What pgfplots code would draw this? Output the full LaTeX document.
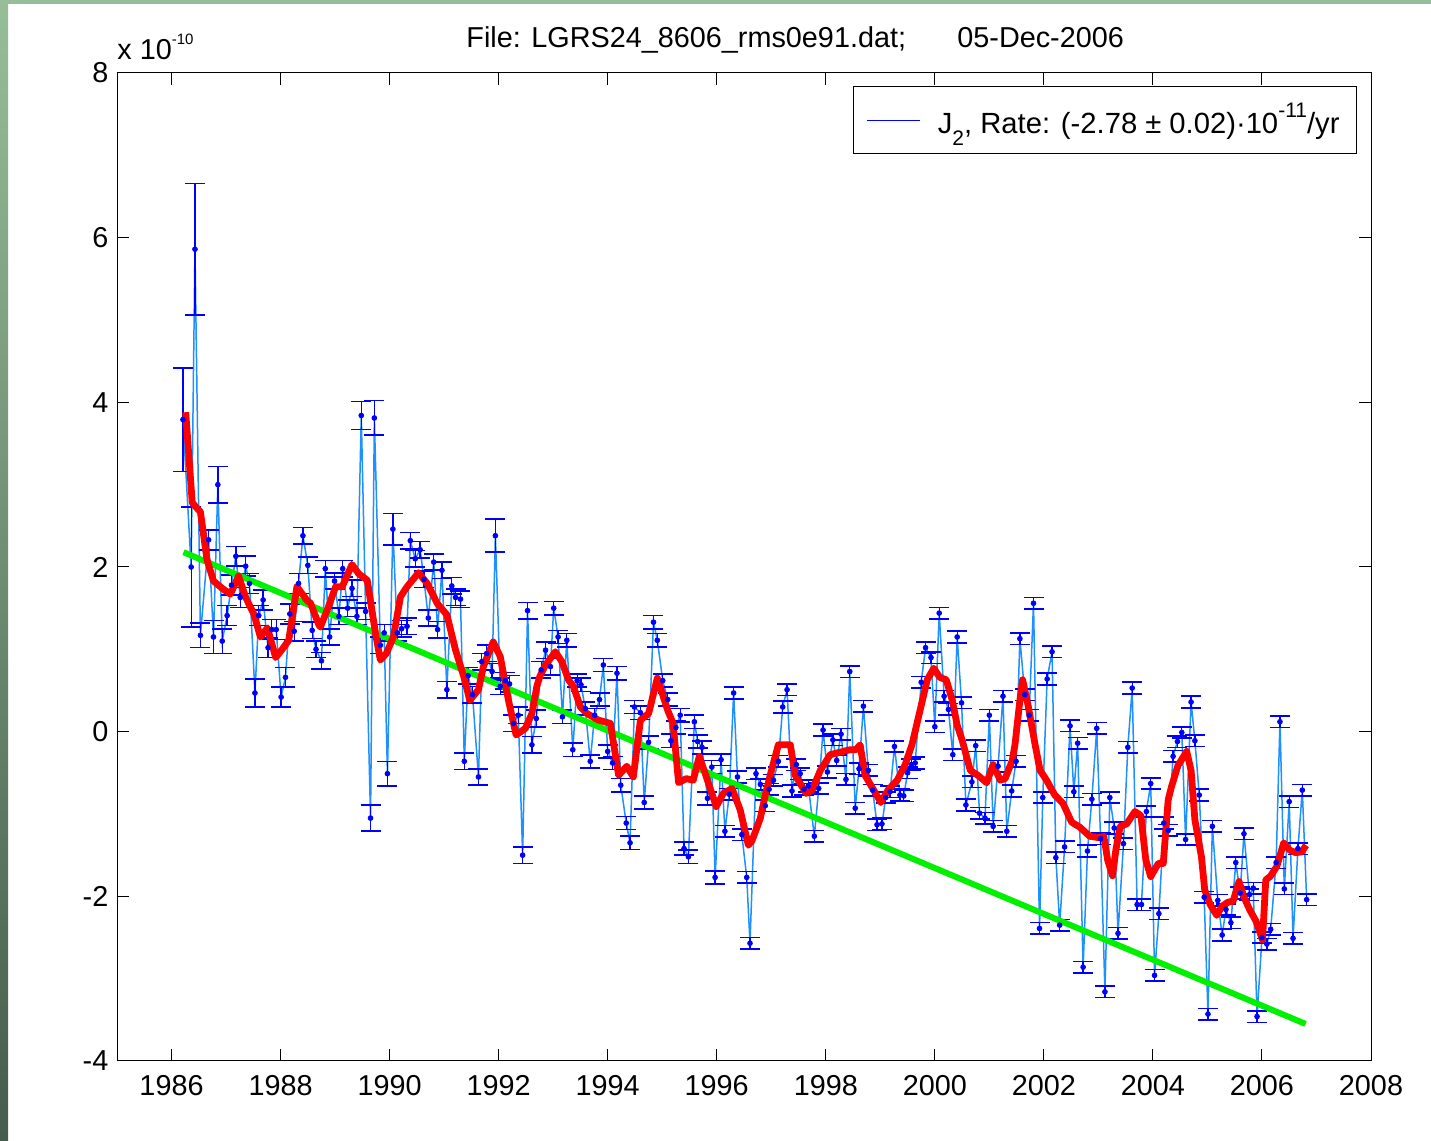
\documentclass[border=0pt]{standalone}
\usepackage{fontspec}
\setmainfont{Liberation Sans}
\usepackage{pgfplots}
\usepackage{pgfplotstable}
\pgfplotsset{compat=1.18}
\definecolor{lblue}{RGB}{30,144,255}
\definecolor{dblue}{RGB}{0,0,255}
\definecolor{mgreen}{RGB}{0,240,0}
\definecolor{slidetop}{RGB}{150,190,152}
\definecolor{slidebot}{RGB}{70,92,76}

\pgfplotstableread{
x y e
1986.21 3.79 0.63
1986.36 2.00 0.73
1986.43 5.86 0.80
1986.53 1.17 0.15
1986.68 2.33 0.12
1986.77 1.15 0.20
1986.85 3.00 0.22
1986.93 1.10 0.15
1987.02 1.41 0.12
1987.10 1.78 0.12
1987.18 2.13 0.12
1987.26 1.63 0.12
1987.36 2.01 0.12
1987.43 1.80 0.12
1987.53 0.47 0.17
1987.60 1.41 0.12
1987.68 1.60 0.12
1987.77 1.02 0.12
1987.84 1.24 0.12
1987.92 1.24 0.12
1988.01 0.42 0.12
1988.09 0.66 0.12
1988.17 1.43 0.12
1988.25 1.22 0.12
1988.33 1.80 0.12
1988.41 2.38 0.10
1988.50 2.02 0.10
1988.58 1.23 0.10
1988.65 1.00 0.10
1988.75 0.86 0.10
1988.82 1.98 0.10
1988.90 1.15 0.10
1988.99 1.83 0.10
1989.07 1.40 0.10
1989.14 1.98 0.10
1989.23 1.50 0.10
1989.31 1.74 0.10
1989.40 1.40 0.10
1989.48 3.84 0.17
1989.56 1.46 0.10
1989.65 -1.05 0.16
1989.72 3.81 0.21
1989.83 1.05 0.10
1989.90 1.20 0.10
1989.96 -0.51 0.15
1990.06 2.46 0.19
1990.14 1.20 0.10
1990.22 1.25 0.10
1990.32 1.28 0.10
1990.38 2.32 0.10
1990.47 2.10 0.10
1990.56 2.21 0.10
1990.63 1.85 0.10
1990.71 1.38 0.10
1990.81 2.06 0.10
1990.88 1.24 0.10
1990.96 1.96 0.10
1991.05 0.51 0.10
1991.14 1.77 0.10
1991.21 1.63 0.10
1991.30 1.61 0.10
1991.37 -0.36 0.10
1991.44 0.68 0.10
1991.52 0.45 0.10
1991.63 -0.55 0.10
1991.69 0.85 0.10
1991.78 0.95 0.10
1991.88 0.73 0.10
1991.94 2.38 0.20
1992.03 0.55 0.10
1992.12 0.62 0.10
1992.20 0.58 0.10
1992.27 0.10 0.10
1992.36 0.20 0.10
1992.44 -1.50 0.10
1992.53 1.47 0.10
1992.61 -0.16 0.10
1992.69 0.16 0.10
1992.78 0.75 0.10
1992.86 0.99 0.10
1992.95 0.79 0.10
1993.01 1.50 0.08
1993.09 1.15 0.08
1993.17 0.18 0.08
1993.25 1.11 0.08
1993.36 -0.22 0.08
1993.44 0.62 0.08
1993.51 0.57 0.08
1993.59 0.28 0.08
1993.68 -0.36 0.08
1993.76 0.20 0.08
1993.85 0.39 0.08
1993.92 0.81 0.08
1994.00 -0.24 0.08
1994.09 -0.38 0.08
1994.17 0.71 0.08
1994.24 -0.65 0.08
1994.34 -1.11 0.08
1994.41 -1.35 0.08
1994.49 0.30 0.08
1994.60 0.23 0.08
1994.67 -0.86 0.08
1994.75 -0.13 0.08
1994.84 1.33 0.08
1994.91 1.11 0.08
1995.01 0.62 0.08
1995.10 0.39 0.08
1995.16 -0.11 0.08
1995.25 0.05 0.08
1995.33 0.20 0.08
1995.40 -1.42 0.08
1995.48 -1.52 0.08
1995.59 0.12 0.08
1995.65 -0.12 0.08
1995.73 -0.19 0.08
1995.83 -0.81 0.08
1995.91 -0.43 0.08
1995.97 -1.77 0.08
1996.08 -0.34 0.07
1996.15 -1.21 0.07
1996.23 -0.76 0.07
1996.31 0.47 0.07
1996.38 -0.55 0.07
1996.46 -1.25 0.07
1996.55 -1.77 0.07
1996.61 -2.57 0.07
1996.72 -0.51 0.07
1996.80 -0.64 0.07
1996.89 -0.90 0.07
1996.96 -0.70 0.07
1997.04 -0.59 0.07
1997.13 -0.36 0.07
1997.21 0.30 0.07
1997.29 0.51 0.07
1997.38 -0.72 0.07
1997.46 -0.40 0.07
1997.53 -0.51 0.07
1997.60 -0.70 0.07
1997.68 -0.66 0.07
1997.79 -1.27 0.07
1997.87 -0.69 0.07
1997.95 0.02 0.07
1998.03 -0.49 0.07
1998.13 -0.10 0.07
1998.20 -0.35 0.07
1998.28 -0.03 0.07
1998.37 -0.58 0.07
1998.44 0.73 0.07
1998.54 -0.93 0.07
1998.61 -0.45 0.07
1998.69 0.31 0.07
1998.78 -0.47 0.07
1998.86 -0.71 0.07
1998.94 -1.13 0.07
1999.03 -1.12 0.07
1999.10 -0.80 0.07
1999.18 -0.73 0.07
1999.26 -0.18 0.07
1999.36 -0.77 0.07
1999.43 -0.78 0.07
1999.50 -0.50 0.07
1999.57 -0.40 0.07
1999.64 -0.38 0.07
1999.75 0.60 0.07
1999.83 1.02 0.07
1999.93 0.90 0.07
2000.00 0.06 0.07
2000.08 1.44 0.07
2000.17 0.43 0.07
2000.25 0.27 0.07
2000.33 -0.28 0.07
2000.41 1.15 0.07
2000.49 0.35 0.07
2000.57 -0.89 0.07
2000.68 -0.61 0.07
2000.75 -0.17 0.07
2000.82 -0.99 0.07
2000.92 -1.05 0.07
2001.00 0.20 0.07
2001.07 -1.15 0.07
2001.16 -0.42 0.07
2001.25 0.43 0.07
2001.32 -1.21 0.07
2001.41 -0.72 0.07
2001.49 -0.36 0.07
2001.56 1.13 0.07
2001.65 0.45 0.07
2001.73 0.20 0.07
2001.81 1.56 0.07
2001.92 -2.39 0.07
2001.98 -0.80 0.07
2002.06 0.64 0.07
2002.15 0.97 0.07
2002.22 -1.53 0.07
2002.29 -2.35 0.07
2002.38 -1.40 0.07
2002.48 0.07 0.07
2002.55 -0.73 0.07
2002.62 -0.14 0.07
2002.72 -2.86 0.07
2002.80 -1.45 0.07
2002.88 -0.82 0.07
2002.97 0.04 0.07
2003.04 -1.30 0.07
2003.12 -3.16 0.07
2003.21 -0.80 0.07
2003.29 -1.17 0.07
2003.36 -2.45 0.07
2003.46 -1.36 0.07
2003.54 -0.19 0.07
2003.62 0.53 0.07
2003.71 -2.10 0.07
2003.79 -2.10 0.07
2003.88 -0.97 0.07
2003.96 -0.63 0.07
2004.03 -2.96 0.07
2004.11 -2.21 0.07
2004.20 -1.11 0.07
2004.28 -1.20 0.07
2004.37 -0.30 0.07
2004.45 -0.12 0.07
2004.53 -0.01 0.07
2004.60 -1.31 0.07
2004.70 0.36 0.07
2004.77 -0.11 0.07
2004.85 -0.77 0.07
2004.94 -2.01 0.07
2005.01 -3.43 0.07
2005.09 -1.15 0.07
2005.19 -2.05 0.07
2005.27 -2.47 0.07
2005.34 -2.16 0.07
2005.43 -2.32 0.07
2005.52 -1.59 0.07
2005.60 -1.96 0.07
2005.67 -1.24 0.07
2005.77 -1.98 0.07
2005.84 -1.90 0.07
2005.91 -3.46 0.07
2006.00 -2.50 0.07
2006.09 -2.58 0.07
2006.16 -2.40 0.07
2006.26 -1.59 0.07
2006.33 0.12 0.07
2006.41 -1.91 0.07
2006.50 -0.85 0.07
2006.57 -2.51 0.07
2006.66 -1.42 0.07
2006.74 -0.71 0.07
2006.82 -2.04 0.07
}\datatab

\pgfplotstableread{
x y
1986.26 3.88
1986.38 2.78
1986.46 2.72
1986.53 2.67
1986.65 2.09
1986.77 1.83
1986.93 1.74
1987.08 1.67
1987.23 1.89
1987.36 1.63
1987.51 1.43
1987.63 1.15
1987.76 1.26
1987.91 0.90
1988.03 1.00
1988.15 1.11
1988.30 1.76
1988.49 1.59
1988.55 1.56
1988.70 1.30
1988.73 1.27
1988.88 1.52
1989.01 1.76
1989.13 1.76
1989.31 2.03
1989.43 1.92
1989.59 1.84
1989.74 1.20
1989.83 0.87
1989.94 0.95
1990.07 1.15
1990.20 1.64
1990.32 1.76
1990.53 1.93
1990.69 1.80
1990.87 1.56
1991.05 1.42
1991.21 0.99
1991.36 0.67
1991.47 0.38
1991.63 0.51
1991.72 0.79
1991.90 1.09
1992.03 0.91
1992.18 0.38
1992.32 -0.04
1992.49 0.04
1992.61 0.22
1992.70 0.55
1992.76 0.68
1992.86 0.81
1993.04 0.97
1993.16 0.85
1993.28 0.63
1993.37 0.55
1993.50 0.30
1993.62 0.22
1993.83 0.14
1994.05 0.10
1994.20 -0.53
1994.35 -0.42
1994.47 -0.55
1994.60 0.14
1994.75 0.22
1994.91 0.65
1995.10 0.26
1995.20 0.10
1995.30 -0.62
1995.44 -0.57
1995.57 -0.59
1995.68 -0.30
1995.81 -0.55
1995.99 -0.91
1996.12 -0.75
1996.28 -0.69
1996.43 -0.95
1996.58 -1.38
1996.65 -1.32
1996.80 -1.05
1996.89 -0.77
1996.98 -0.53
1997.13 -0.16
1997.35 -0.16
1997.44 -0.53
1997.64 -0.75
1997.75 -0.71
1997.90 -0.47
1998.08 -0.28
1998.26 -0.25
1998.44 -0.22
1998.55 -0.22
1998.63 -0.16
1998.72 -0.53
1998.87 -0.70
1999.01 -0.86
1999.14 -0.71
1999.31 -0.59
1999.45 -0.41
1999.58 -0.16
1999.73 0.26
1999.86 0.63
1999.98 0.77
2000.09 0.66
2000.21 0.63
2000.32 0.38
2000.41 0.08
2000.50 -0.10
2000.65 -0.47
2000.79 -0.53
2000.95 -0.62
2001.07 -0.40
2001.20 -0.59
2001.29 -0.57
2001.42 -0.35
2001.47 -0.16
2001.56 0.38
2001.61 0.63
2001.71 0.32
2001.84 -0.16
2001.93 -0.47
2002.05 -0.59
2002.20 -0.77
2002.35 -0.87
2002.51 -1.10
2002.66 -1.16
2002.84 -1.27
2003.03 -1.29
2003.10 -1.27
2003.17 -1.56
2003.26 -1.75
2003.32 -1.44
2003.40 -1.15
2003.52 -1.12
2003.67 -0.97
2003.78 -1.02
2003.87 -1.56
2003.96 -1.76
2004.10 -1.60
2004.19 -1.60
2004.28 -0.83
2004.34 -0.67
2004.46 -0.41
2004.62 -0.24
2004.70 -0.47
2004.77 -1.07
2004.89 -1.52
2004.95 -1.92
2005.05 -2.10
2005.17 -2.23
2005.27 -2.12
2005.38 -2.07
2005.47 -2.06
2005.58 -1.82
2005.67 -2.01
2005.78 -2.17
2005.89 -2.30
2006.01 -2.53
2006.07 -1.80
2006.15 -1.76
2006.27 -1.64
2006.40 -1.35
2006.51 -1.44
2006.62 -1.47
2006.73 -1.46
2006.81 -1.38
}\smoothtab

\pgfplotstableread{
x y
1986.22 2.18
2006.80 -3.55
}\trendtab

\begin{document}
\begin{tikzpicture}
\useasboundingbox (0,0) rectangle (715.5pt,570.5pt);
\fill[white] (0,0) rectangle (715.5pt,570.5pt);
\shade[top color=slidetop, bottom color=slidebot] (0,0) rectangle (4pt,570.5pt);
\fill[slidetop] (0,568.5pt) rectangle (715.5pt,570.5pt);
\begin{axis}[
  at={(58.5pt,40pt)}, anchor=south west,
  scale only axis, width=627pt, height=494pt,
  xmin=1985, xmax=2008, ymin=-4, ymax=8,
  xtick={1986,1988,...,2008}, ytick={-4,-2,...,8},
  minor tick num=0,
  tick align=inside, xtick pos=both, ytick pos=both,
  major tick length=6pt,
  axis line style={black, line width=0.5pt},
  every tick/.style={black, line width=0.5pt},
  /pgf/number format/assume math mode=true,
  /pgf/number format/1000 sep={},
  tick label style={font=\fontsize{14.4}{16}\selectfont},
  xticklabel style={yshift=-3.5pt},
  yticklabel style={xshift=-0.8pt},
  legend style={at={(rel axis cs:1,1)}, anchor=north east, xshift=-7pt, yshift=-6.5pt,
    draw=black, line width=0.5pt, font=\fontsize{14.6}{16}\selectfont,
    inner xsep=6.5pt, inner ysep=6.5pt},
  legend cell align=left,
]
\addlegendimage{legend image code/.code={\draw[color=dblue, line width=0.6pt] (0pt,0pt) -- (26.5pt,0pt);}}
\addlegendentry{\hspace{6.5pt}J\raisebox{-0.4em}{\fontsize{10.5}{12}\selectfont 2}, Rate: (-2.78 ± 0.02)·10\raisebox{0.55em}{\fontsize{10.5}{12}\selectfont -11}/yr\hspace{9.5pt}}
\addplot[lblue, line width=0.75pt, forget plot] table[x=x, y=y] {\datatab};
\addplot[only marks, color=dblue, mark=*, mark size=1.2pt, forget plot,
  error bars/.cd, y dir=both, y explicit,
  error bar style={color=dblue, line width=0.65pt},
  error mark=-,
  error mark options={color=dblue, draw=dblue, rotate=90, mark size=5pt, line width=0.8pt}]
  table[x=x, y=y, y error=e] {\datatab};
\addplot[mgreen, line width=3pt, forget plot] table[x=x, y=y] {\trendtab};
\addplot[red, line width=3.4pt, line join=round, forget plot] table[x=x, y=y] {\smoothtab};
\end{axis}
\node[anchor=base west, font=\fontsize{14.4}{16}\selectfont, inner sep=0pt] at (58.5pt,540.5pt) {x 10\raisebox{7.5pt}{\fontsize{7.5}{9}\selectfont -10}};
\node[anchor=base west, font=\fontsize{14.4}{16}\selectfont, inner sep=0pt] at (233pt,546.5pt) {File: LGRS24\_8606\_rms0e91.dat;};
\node[anchor=base west, font=\fontsize{14.4}{16}\selectfont, inner sep=0pt] at (478.5pt,546.5pt) {05-Dec-2006};
\end{tikzpicture}
\end{document}
